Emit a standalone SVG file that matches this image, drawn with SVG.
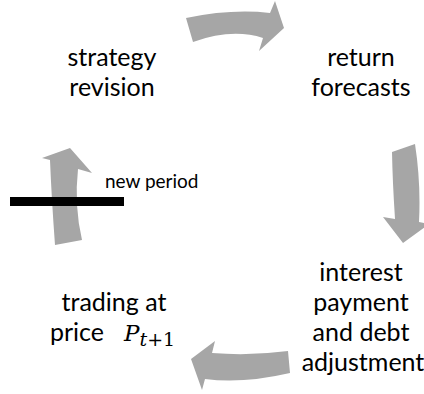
<svg xmlns="http://www.w3.org/2000/svg" width="424" height="394" viewBox="0 0 424 394">
<style>
.lbl{font-family:Lato,"Liberation Sans",sans-serif;font-size:25px;fill:#000;text-anchor:middle}
.small{font-family:Lato,"Liberation Sans",sans-serif;font-size:19px;fill:#000}
.arr{fill:#a6a6a6;stroke:none}
.math{font-family:"DejaVu Serif",serif;font-style:italic}
</style>
<rect width="424" height="394" fill="#fff"/>
<g id="connectors">
<path class="arr" d="M186,18 Q232,8.5 270,13 L275,1 L284,28 L259,51 L263,38 Q232,28 193,42 Z"/>
<path class="arr" d="M392,152 L415,144 Q421,183 419,222 L429,224 L403,243 L383,217 L395,219 Q392.5,180.5 392,152 Z"/>
<path class="arr" d="M288,351 Q250,356 212,353 L215,341 L191,359 L202,390 L205,379 Q242.5,384 290,373 Z"/>
<path class="arr" d="M55,245 Q51.5,197.5 50,160 L42,158 L70,148 L92,173 L78,169 Q74,205.5 82,240 Z"/>
</g>
<g id="new-period">
<rect x="10" y="197" width="114" height="9" fill="#000"/>
<text class="small" x="105" y="188">new period</text>
</g>
<g id="strategy-revision">
<text class="lbl" x="112" y="66">strategy</text>
<text class="lbl" x="112" y="96">revision</text>
</g>
<g id="return-forecasts">
<text class="lbl" x="361" y="66">return</text>
<text class="lbl" x="361" y="96">forecasts</text>
</g>
<g id="interest-payment">
<text class="lbl" x="361" y="281">interest</text>
<text class="lbl" x="361" y="311">payment</text>
<text class="lbl" x="361" y="341">and debt</text>
<text class="lbl" x="363" y="371">adjustment</text>
</g>
<g id="trading">
<text class="lbl" x="114" y="311">trading at</text>
<text class="lbl" x="50" y="341" style="text-anchor:start">price <tspan class="math" x="124" font-size="23">P</tspan><tspan class="math" font-size="19" dy="5">t</tspan><tspan font-family="'DejaVu Serif',serif" font-size="19">+1</tspan></text>
</g>
</svg>
